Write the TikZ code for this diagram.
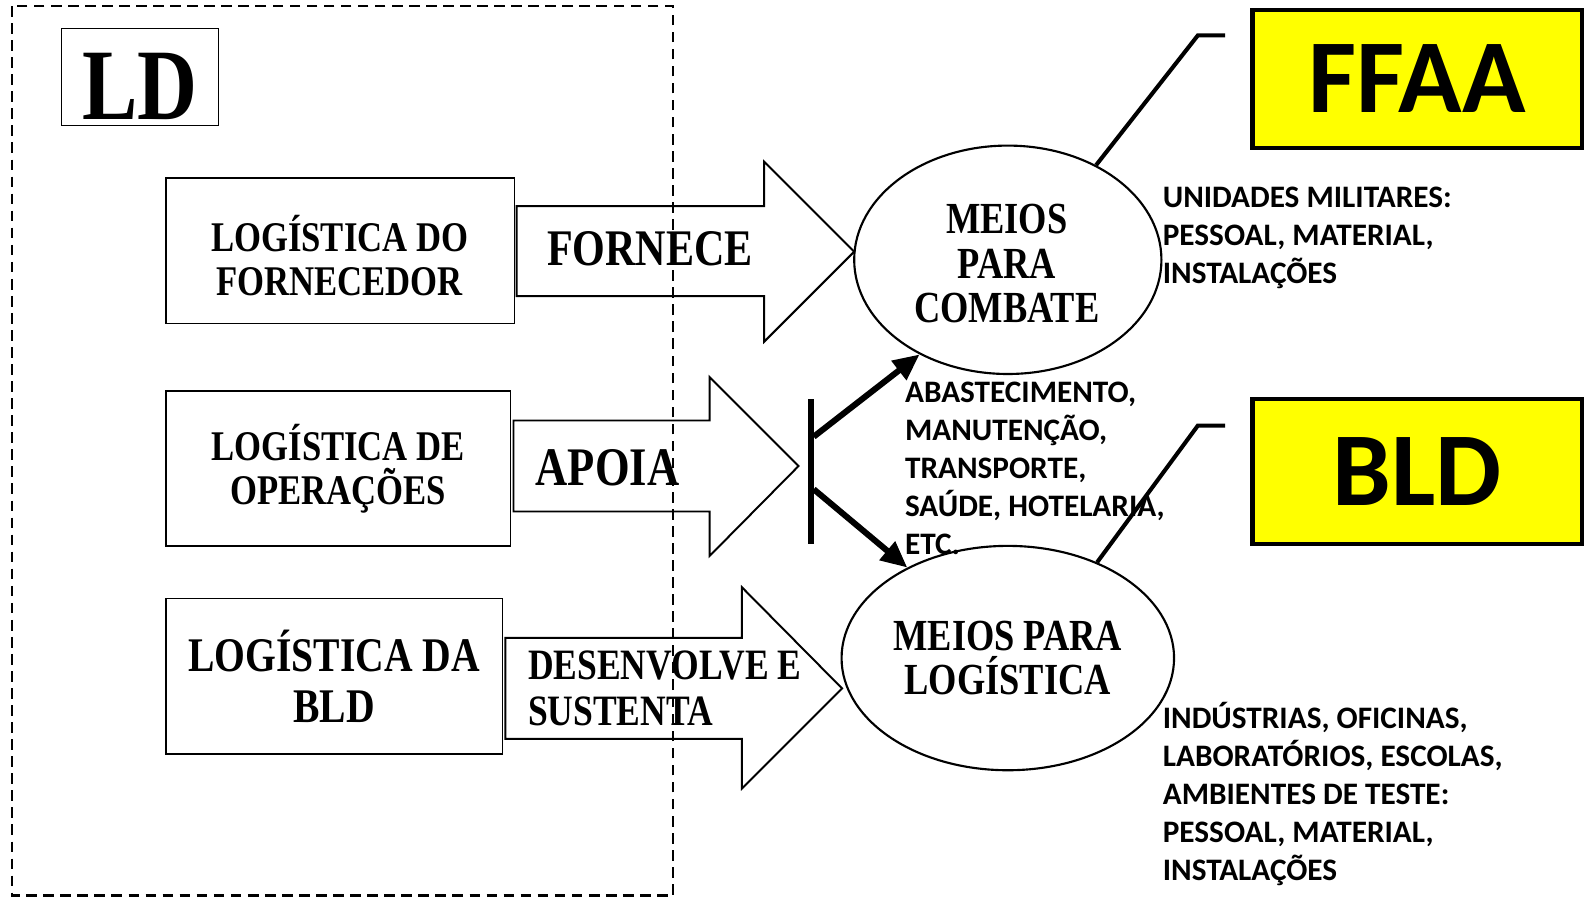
\documentclass[tikz,border=0pt]{standalone}
\usepackage{fontspec}
\usetikzlibrary{shapes.geometric,arrows.meta}
\newfontfamily\tnr{Liberation Serif}[FakeStretch=0.82]
\newfontfamily\cbr{Carlito}
\definecolor{markyellow}{RGB}{255,255,0}

\begin{document}
\begin{tikzpicture}[x=0.02cm,y=-0.02cm,
  box/.style={draw,line width=0.85pt,rectangle,inner sep=0pt,align=center},
  blockarrow/.style={draw,line width=1.1pt,fill=white,line join=miter},
  oval/.style={draw,line width=1.2pt,ellipse,inner sep=0pt,align=center},
  thickarrow/.style={line width=3.4pt,-{Triangle[length=0.52cm,width=0.46cm]}},
  callout/.style={line width=2.3pt,line join=miter},
  tag/.style={draw,line width=2.3pt,fill=markyellow,inner sep=0pt,
    minimum width=6.52cm,font=\cbr\bfseries\fontsize{59}{60}\selectfont},
  midtext/.style={font=\tnr\bfseries\fontsize{23.8}{25}\selectfont},
  bigtext/.style={font=\tnr\bfseries\fontsize{27.2}{28.4}\selectfont},
  ovaltext/.style={font=\tnr\bfseries\fontsize{25}{25}\selectfont},
  listtext/.style={inner sep=0pt,align=left,anchor=north west,
    font=\cbr\bfseries\fontsize{17.6}{21.4}\selectfont},
  frame/.style={line width=1.3pt,dash pattern=on 6pt off 3.6pt}
]
\path[use as bounding box] (0,0) rectangle (1568,889);

% boxes on the left
\node[box,minimum width=3.1cm,minimum height=1.92cm,text height=1.68cm,text depth=0pt,
  font=\tnr\bfseries\fontsize{57}{60}\selectfont] (ld) at (138.5,76) {LD};
\node[box,minimum width=6.9cm,minimum height=2.88cm] (forn) at (336.5,248) {};
\node[midtext,inner sep=0pt,align=center] (forntxt) at (336,253) {LOGÍSTICA DO\\FORNECEDOR};
\node[box,midtext,minimum width=6.82cm,minimum height=3.06cm] (oper) at (334.5,463.5)
  {LOGÍSTICA DE\\OPERAÇÕES};
\node[box,bigtext,minimum width=6.66cm,minimum height=3.08cm] (bldl) at (330.5,669)
  {LOGÍSTICA DA\\BLD};

% block arrows
\draw[blockarrow] (511,204) -- (756,204) -- (756,160) -- (845,249) -- (756,338)
  -- (756,293) -- (511,293) -- cycle;
\draw[blockarrow] (508,416) -- (702,416) -- (702,373) -- (790,461) -- (702,550)
  -- (702,506) -- (508,506) -- cycle;
\draw[blockarrow] (500,631) -- (734,631) -- (734,581) -- (833,681) -- (734,780)
  -- (734,731) -- (500,731) -- cycle;

\node[font=\tnr\bfseries\fontsize{28.9}{30}\selectfont,inner sep=0pt] (fornece) at (643,246) {FORNECE};
\node[font=\tnr\bfseries\fontsize{30.6}{32}\selectfont,inner sep=0pt] (apoia) at (601,463) {APOIA};
\node[font=\tnr\bfseries\fontsize{24.4}{25.5}\selectfont,inner sep=0pt,align=left,anchor=west]
  (desenv) at (522,681) {DESENVOLVE E\\SUSTENTA};

% lists of means
\node[listtext] (unid) at (1150,178.6) {\strut UNIDADES MILITARES:\\PESSOAL, MATERIAL,\\INSTALAÇÕES};
\node[listtext] (apoios) at (895,371.6) {\strut ABASTECIMENTO,\\MANUTENÇÃO,\\TRANSPORTE,\\SAÚDE, HOTELARIA,\\ETC.};
\node[listtext] (indus) at (1150,693.6) {\strut INDÚSTRIAS, OFICINAS,\\LABORATÓRIOS, ESCOLAS,\\AMBIENTES DE TESTE:\\PESSOAL, MATERIAL,\\INSTALAÇÕES};

% means
\node[oval,minimum width=6.08cm,minimum height=4.52cm] (combate) at (997,257) {};
\node[ovaltext,inner sep=0pt,align=center] (combtxt) at (996,261) {MEIOS\\PARA\\COMBATE};
\node[oval,ovaltext,minimum width=6.58cm,minimum height=4.44cm] (logist) at (997,651)
  {MEIOS PARA\\LOGÍSTICA};

% support fork
\coordinate (bart) at (802,395);
\coordinate (barb) at (802,538);
\coordinate (forkup) at (805,432);
\coordinate (forkdn) at (805,484);
\draw[line width=3.4pt] (bart) -- (barb);
\draw[thickarrow] (forkup) -- (combate.227);
\draw[thickarrow] (forkdn) -- (logist.138);

% tags
\coordinate (ffbend) at (1185,35);
\coordinate (ffend) at (1212,35);
\coordinate (bdbend) at (1185,421);
\coordinate (bdend) at (1212,421);
\draw[callout] (combate.47) -- (ffbend) -- (ffend);
\draw[callout] (logist.47) -- (bdbend) -- (bdend);
\node[tag,minimum height=2.72cm] (ffaa) at (1402,78) {FFAA};
\node[tag,minimum height=2.86cm] (bld) at (1402,466.5) {BLD};

% dashed frame of LD
\draw[frame] (12,6) rectangle (666,886);
\end{tikzpicture}
\end{document}
